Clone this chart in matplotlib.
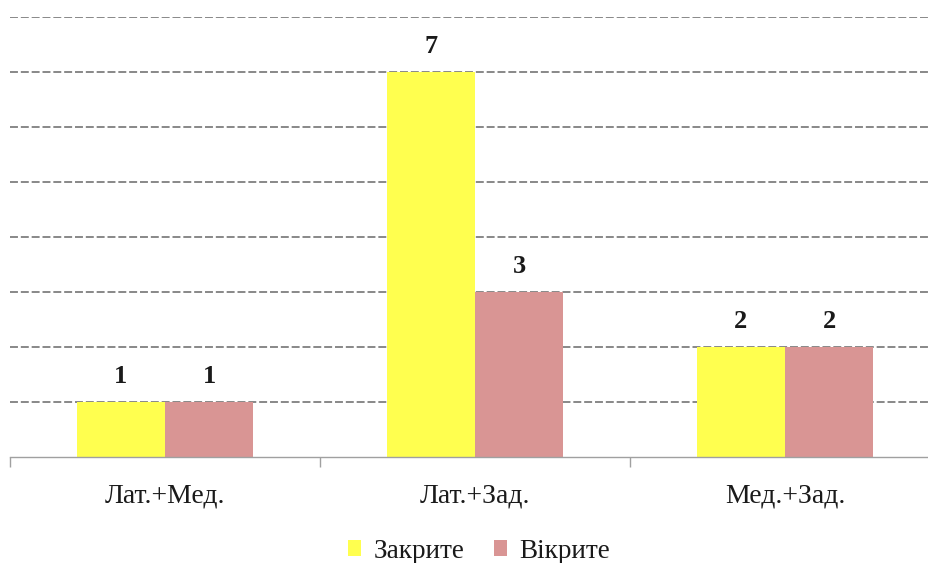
import matplotlib.pyplot as plt
import numpy as np

categories = ["Лат.+Мед.", "Лат.+Зад.", "Мед.+Зад."]
closed_vals = [1, 7, 2]
open_vals = [1, 3, 2]
series_names = ["Закрите", "Вікрите"]

plt.rcParams['font.family'] = ['Liberation Serif', 'DejaVu Serif']

fig = plt.figure(figsize=(9.29, 5.63), dpi=100)
# axes runs a little past the right edge of the figure
ax = fig.add_axes([10 / 929, 106 / 563, 930 / 929, 440 / 563])

x = np.arange(len(categories))
w = 0.284
b1 = ax.bar(x - w / 2, closed_vals, w, color='#FFFF4F', label=series_names[0], zorder=2)
b2 = ax.bar(x + w / 2, open_vals, w, color='#D99594', label=series_names[1], zorder=2)

for bars in (b1, b2):
    for r in bars:
        ax.annotate(f"{int(r.get_height())}", (r.get_x() + r.get_width() / 2, r.get_height()),
                    xytext=(0, 18.5), textcoords='offset points', ha='center', va='center',
                    fontsize=19, fontweight='bold', color='#1a1a1a')

ax.set_xlim(-0.5, 2.5)
ax.set_ylim(0, 8)
ax.set_yticks(range(1, 9))
ax.yaxis.grid(True, color='#7f7f7f', linewidth=1.3, linestyle=(0, (4.4, 1.6)), zorder=1)
ax.tick_params(axis='y', left=False, labelleft=False)

ax.set_xticks(x)
ax.set_xticklabels(categories, fontsize=20, color='#1a1a1a')
ax.set_xticks([-0.5, 0.5, 1.5, 2.5], minor=True)
ax.tick_params(axis='x', which='major', length=0, pad=19)
ax.tick_params(axis='x', which='minor', length=7.5, color='#a0a0a0', width=1)

for s in ('top', 'right', 'left'):
    ax.spines[s].set_visible(False)
ax.spines['bottom'].set_color('#a0a0a0')
ax.spines['bottom'].set_linewidth(1)

fig.legend(loc='center', bbox_to_anchor=(479 / 929, 1 - 551 / 563), ncol=2, frameon=False,
           fontsize=19.5, handlelength=0.5, handleheight=0.5, handletextpad=0.45, columnspacing=1.1,
           labelcolor='#1a1a1a')

fig.savefig('out.png', dpi=100)
